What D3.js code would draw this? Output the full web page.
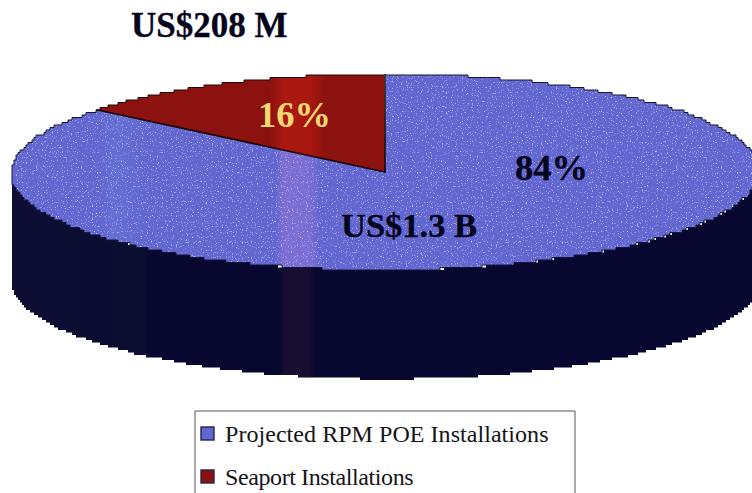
<!DOCTYPE html>
<html>
<head>
<meta charset="utf-8">
<script src="https://cdn.jsdelivr.net/npm/d3@7"></script>
<style>
  html, body { margin: 0; background: #fff; }
  text { font-family: "Liberation Serif", serif; }
  .big { font-weight: bold; stroke-width: 0.35; }
</style>
</head>
<body>
<div id="chart"></div>
<script>
var categories = ["Projected RPM POE Installations", "Seaport Installations"];
var shares = [84, 16];
var shareLabels = ["84%", "16%"];
var amountLabels = ["US$1.3 B", "US$208 M"];
var sliceColors = ["#6266d0", "#8c1210"];
var labelColors = ["#05051c", "#f4d873"];

var width = 752, height = 493;
var cx = 385, cy = 172, rx = 374, ry = 98, depth = 109;

var svg = d3.select("#chart").append("svg")
    .attr("width", width)
    .attr("height", height)
    .style("display", "block");

var defs = svg.append("defs");

// scanned print speckle
var speckle = defs.append("filter").attr("id", "speckle")
    .attr("x", 0).attr("y", 0).attr("width", 1).attr("height", 1);
speckle.append("feTurbulence").attr("type", "fractalNoise")
    .attr("baseFrequency", 0.8).attr("numOctaves", 2).attr("seed", 4).attr("result", "n");
speckle.append("feColorMatrix").attr("in", "n").attr("type", "matrix")
    .attr("values", "0 0 0 0 0.72  0 0 0 0 0.68  0 0 0 0 1  3 0 0 0 -1.8")
    .attr("result", "dots");
speckle.append("feComposite").attr("in", "dots").attr("in2", "SourceGraphic")
    .attr("operator", "in").attr("result", "clipped");
speckle.append("feMerge").selectAll("feMergeNode")
    .data(["SourceGraphic", "clipped"])
  .enter().append("feMergeNode").attr("in", d => d);

// faint vertical bands from the scan
function bandGradient(id, stops) {
  var g = defs.append("linearGradient").attr("id", id)
      .attr("gradientUnits", "userSpaceOnUse")
      .attr("x1", 0).attr("x2", width).attr("y1", 0).attr("y2", 0);
  stops.forEach(function(s) {
    g.append("stop").attr("offset", s[0] / width).attr("stop-color", s[1]).attr("stop-opacity", s[2]);
  });
}
bandGradient("topBands", [[100, "#6fb0f0", 0], [113, "#6fb0f0", .12], [135, "#6fb0f0", .05], [150, "#6fb0f0", 0],
  [275, "#e48ee0", 0], [285, "#e48ee0", .2], [310, "#e48ee0", .18], [320, "#e48ee0", 0]]);
bandGradient("sideBands", [[0, "#3a3a60", .15], [100, "#233a44", .1], [143, "#233a44", .14], [150, "#233a44", 0],
  [280, "#5a2a3a", 0], [286, "#5a2a3a", .2], [310, "#5a2a3a", .18], [316, "#5a2a3a", 0]]);
bandGradient("wedgeBands", [[270, "#d02010", 0], [285, "#d02010", .45], [310, "#d02010", .4], [325, "#d02010", 0]]);

function edgePoint(a, dy) {
  return [cx + rx * Math.sin(a), cy + (dy || 0) - ry * Math.cos(a)];
}

// the rim of the scanned pie is stair stepped
var stair = d3.line()
    .x(d => Math.round(d[0] / 2) * 2)
    .y(d => Math.round(d[1] / 2.5) * 2.5)
    .curve(d3.curveStepAfter);

function rim(a0, a1, dy) {
  return d3.range(0, 241).map(i => edgePoint(a0 + (a1 - a0) * i / 240, dy));
}

var pie = d3.pie().sort(null).value(d => d);
var slices = pie(shares);

// the tilted view squeezes the back wedge a little
var viewAngle = d3.scaleLinear()
    .domain([0, slices[0].endAngle, 2 * Math.PI])
    .range([0, 309.5 * Math.PI / 180, 2 * Math.PI]);

// side wall
var sidePath = stair(rim(Math.PI / 2, 3 * Math.PI / 2, 0)) +
    "L" + stair(rim(3 * Math.PI / 2, Math.PI / 2, depth)).slice(1) + "Z";
var wall = svg.append("g");
wall.append("path").attr("d", sidePath).attr("fill", "#08072f");
wall.append("path").attr("d", sidePath).attr("fill", "url(#sideBands)");

// top of the pie
var face = svg.append("g");
slices.forEach(function(d, i) {
  var a0 = viewAngle(d.startAngle), a1 = viewAngle(d.endAngle);
  var p = stair(rim(a0, a1, 0)) + "L" + cx + "," + cy + "Z";
  face.append("path").attr("class", "slice")
      .attr("d", p)
      .attr("fill", sliceColors[i])
      .attr("filter", i == 0 ? "url(#speckle)" : null);
  face.append("path").attr("d", p)
      .attr("fill", i == 0 ? "url(#topBands)" : "url(#wedgeBands)");
  face.append("path").attr("d", stair(rim(a0, a1, 0)))
      .attr("fill", "none")
      .attr("stroke", i == 0 ? "#15153a" : "#200808")
      .attr("stroke-width", 1);
});

// the two straight edges of the small wedge
var wedgeEdge = edgePoint(viewAngle(slices[1].startAngle));
face.append("path")
    .attr("d", d3.line()([wedgeEdge, [cx, cy], [cx, cy - ry]]))
    .attr("fill", "none")
    .attr("stroke", "#120408")
    .attr("stroke-width", 1.6);

// labels
svg.append("text").attr("class", "big").attr("x", 131).attr("y", 37)
    .attr("font-size", 35).attr("fill", "#05051c").attr("stroke", "#05051c").text(amountLabels[1]);
svg.append("text").attr("class", "big").attr("x", 341).attr("y", 237)
    .attr("font-size", 34.5).attr("fill", labelColors[0]).attr("stroke", labelColors[0]).text(amountLabels[0]);
svg.append("text").attr("class", "big").attr("x", 515).attr("y", 180)
    .attr("font-size", 36.5).attr("fill", labelColors[0]).attr("stroke", labelColors[0]).text(shareLabels[0]);
svg.append("text").attr("class", "big").attr("x", 258).attr("y", 127)
    .attr("font-size", 36.5).attr("fill", labelColors[1]).text(shareLabels[1]);

// legend, cut off by the bottom of the page
var legend = svg.append("g");
legend.append("path")
    .attr("d", "M195,493V411H575V493")
    .attr("fill", "#fff")
    .attr("stroke", "#55555a")
    .attr("stroke-width", 1);

var legendY = d3.scalePoint().domain(categories).range([442, 485]);
var item = legend.selectAll(".item")
    .data(categories)
  .enter().append("g")
    .attr("class", "item")
    .attr("transform", d => "translate(0," + legendY(d) + ")");
item.append("rect")
    .attr("x", 201).attr("y", -15).attr("width", 13).attr("height", 13)
    .attr("fill", (d, i) => sliceColors[i])
    .attr("stroke", "#26264a")
    .attr("stroke-width", 1.4);
item.append("text")
    .attr("x", 225)
    .attr("font-size", 24)
    .attr("letter-spacing", (d, i) => i == 0 ? 0.05 : -0.4)
    .attr("fill", "#141418")
    .text(d => d);
</script>
</body>
</html>
